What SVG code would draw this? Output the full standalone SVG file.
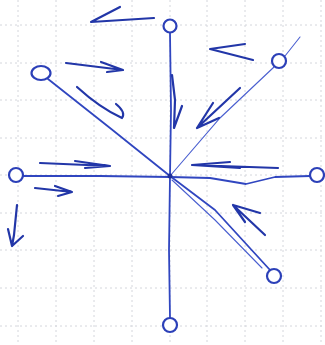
<svg xmlns="http://www.w3.org/2000/svg" width="325" height="345" viewBox="0 0 325 345">
<style>
.grid{stroke:#d4d6dc;stroke-width:1;stroke-dasharray:2 3}
.ink{fill:none;stroke:#3046c0;stroke-width:1.8;stroke-linecap:round;stroke-linejoin:round}
.thin{fill:none;stroke:#4a5fd0;stroke-width:1.1;stroke-linecap:round}
.node{fill:#fff;stroke:#2c40b8;stroke-width:2.2}
.arr{fill:none;stroke:#2236a8;stroke-width:2.2;stroke-linecap:round;stroke-linejoin:round}
</style>
<rect width="325" height="345" fill="#fff"/>
<g id="grid">
<path class="grid" d="M18 0V345M56 0V345M94 0V345M132 0V345M170 0V345M207 0V345M245 0V345M283 0V345M321 0V345M0 25H325M0 63H325M0 100H325M0 138H325M0 175H325M0 213H325M0 250H325M0 288H325M0 326H325"/>
</g>
<g id="connectors">
<path class="ink" d="M170 33 L171 110 L170 176"/>
<path class="ink" d="M170 176 L169 250 L170 318"/>
<path class="ink" d="M48 79 L110 128 L170 176"/>
<path class="thin" d="M300 37 L285 56"/>
<path class="thin" d="M274 67 L220 118 L170 176"/>
<path class="ink" d="M23 176 L100 176 L170 177"/>
<path class="ink" d="M170 177 L210 178 L246 184 L275 177 L310 176"/>
<path class="ink" d="M170 176 L215 210 L270 270"/>
<path class="thin" d="M172 180 L215 220 L262 268"/>
<circle cx="170" cy="176" r="2.5" fill="#1e2f99"/>
<path class="arr" d="M154 18 L91 22 L120 7"/>
<path class="arr" d="M66 63 L123 70 L101 62 M123 70 L107 72"/>
<path class="arr" d="M77 87 Q100 108 122 118 Q126 112 116 104"/>
<path class="arr" d="M40 163 L110 166 L75 161 M110 166 L85 168"/>
<path class="arr" d="M35 188 L72 192 L55 186 M72 192 L58 196"/>
<path class="arr" d="M17 205 L14 235 L12 246 L8 229 M12 246 L23 236"/>
<path class="arr" d="M245 44 L210 49 L253 60"/>
<path class="arr" d="M172 75 L175 100 L174 128 L182 106"/>
<path class="arr" d="M240 88 L197 128 L213 103 M197 128 L219 118"/>
<path class="arr" d="M278 168 L192 165 L230 162 M192 165 L240 168"/>
<path class="arr" d="M265 235 L233 205 L260 213 M233 205 L245 222"/>
</g>
<g id="node-top"><circle class="node" cx="170" cy="26" r="6.5"/></g>
<g id="node-upper-left"><ellipse class="node" cx="41" cy="73" rx="9.5" ry="7"/></g>
<g id="node-upper-right"><circle class="node" cx="279" cy="61" r="7"/></g>
<g id="node-left"><circle class="node" cx="16" cy="175" r="7"/></g>
<g id="node-right"><circle class="node" cx="317" cy="175" r="7"/></g>
<g id="node-lower-right"><circle class="node" cx="274" cy="276" r="7"/></g>
<g id="node-bottom"><circle class="node" cx="170" cy="325" r="7"/></g>
</svg>
